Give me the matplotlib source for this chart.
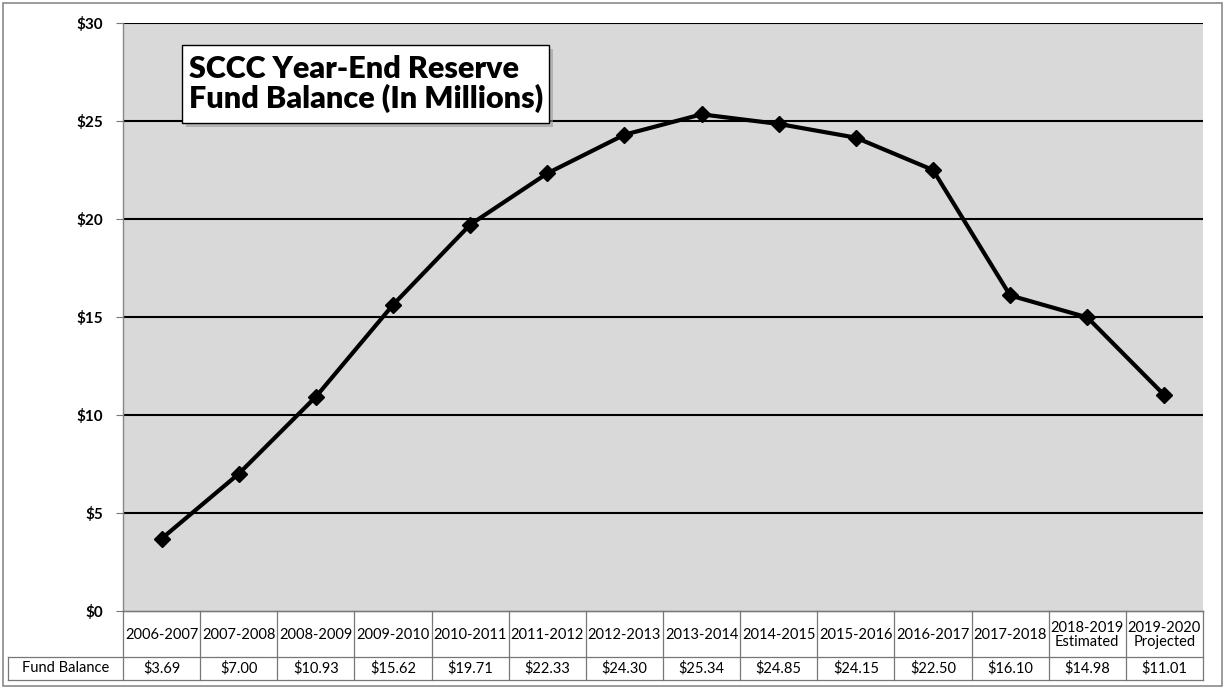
import matplotlib
matplotlib.use("Agg")
import matplotlib.pyplot as plt
from matplotlib.patches import Rectangle

plt.rcParams['font.family'] = ['Lato', 'DejaVu Sans']

categories = ["2006-2007", "2007-2008", "2008-2009", "2009-2010", "2010-2011",
              "2011-2012", "2012-2013", "2013-2014", "2014-2015", "2015-2016",
              "2016-2017", "2017-2018", "2018-2019\nEstimated", "2019-2020\nProjected"]
values = [3.69, 7.00, 10.93, 15.62, 19.71, 22.33, 24.30, 25.34, 24.85, 24.15,
          22.50, 16.10, 14.98, 11.01]
value_labels = ["$3.69", "$7.00", "$10.93", "$15.62", "$19.71", "$22.33", "$24.30",
                "$25.34", "$24.85", "$24.15", "$22.50", "$16.10", "$14.98", "$11.01"]
yticks = [0, 5, 10, 15, 20, 25, 30]
ytick_labels = ["$0", "$5", "$10", "$15", "$20", "$25", "$30"]
row_label = "Fund Balance"
title = "SCCC Year-End Reserve\nFund Balance (In Millions)"

W, H = 1225, 689
fig = plt.figure(figsize=(W / 100, H / 100), dpi=100)
fig.patch.set_facecolor("white")

# outer border
fig.add_artist(Rectangle((3 / W, 3 / H), (W - 6) / W, (H - 6) / H, transform=fig.transFigure,
                         fill=False, edgecolor="#8a8a8a", linewidth=1.2))

L, R, T, B = 123, 1203, 23, 611
ax = fig.add_axes([L / W, 1 - B / H, (R - L) / W, (B - T) / H])
ax.set_facecolor("#d9d9d9")
n = len(categories)
x = list(range(n))
ax.set_xlim(-0.5, n - 0.5)
ax.set_ylim(0, 30)
ax.set_yticks(yticks)
ax.set_yticklabels(ytick_labels, fontsize=11, fontweight="bold")
ax.tick_params(axis="y", length=5, width=0.8, color="#777777", pad=9)
ax.set_xticks([])
for s in ["top", "right"]:
    ax.spines[s].set_visible(False)
ax.spines["left"].set_color("#888888")
ax.spines["left"].set_linewidth(1.0)
ax.spines["bottom"].set_color("#888888")
ax.spines["bottom"].set_linewidth(1.0)
for yv in yticks[1:]:
    ax.axhline(yv, color="black", linewidth=1.5, zorder=1)

ax.plot(x, values, color="black", linewidth=3.0, marker="D", markersize=8.5,
        markerfacecolor="black", zorder=3)

# title box with shadow
bx0, bx1, by0, by1 = 182, 549, 45, 123
def fx(px):
    return (px - L) / (R - L)
def fy(py):
    return (B - py) / (B - T)
shadow = Rectangle((fx(bx0 + 4), fy(by1 + 4)), fx(bx1) - fx(bx0), fy(by0) - fy(by1),
                   transform=ax.transAxes, facecolor="#9a9a9a", edgecolor="none", alpha=0.6, zorder=4)
ax.add_patch(shadow)
box = Rectangle((fx(bx0), fy(by1)), fx(bx1) - fx(bx0), fy(by0) - fy(by1),
                transform=ax.transAxes, facecolor="white", edgecolor="black", linewidth=1.0, zorder=5)
ax.add_patch(box)
ax.text(fx(bx0 + 7), fy((by0 + by1) / 2), title, transform=ax.transAxes, ha="left", va="center",
        fontsize=22, fontweight="heavy", linespacing=1.05, zorder=6)

# table
TL, TB = 8, 680
HB = 657
tax = fig.add_axes([TL / W, 1 - TB / H, (R - TL) / W, (TB - B) / H])
colw = (R - L) / n
first_w = (L - TL) / colw
tax.set_xlim(-0.5 - first_w, n - 0.5)
tax.set_ylim(TB - B, 0)
tax.axis("off")
lc = "#777777"
lw = 0.9
row_h1 = HB - B
row_h2 = TB - B
tax.plot([-0.5, n - 0.5], [0, 0], color=lc, lw=lw, clip_on=False)
tax.plot([-0.5 - first_w, n - 0.5], [row_h1, row_h1], color=lc, lw=lw, clip_on=False)
tax.plot([-0.5 - first_w, n - 0.5], [row_h2, row_h2], color=lc, lw=lw, clip_on=False)
for i in range(n + 1):
    tax.plot([i - 0.5, i - 0.5], [0, row_h2], color=lc, lw=lw, clip_on=False)
tax.plot([-0.5 - first_w] * 2, [row_h1, row_h2], color=lc, lw=lw, clip_on=False)

for i, (c, v) in enumerate(zip(categories, value_labels)):
    tax.text(i, row_h1 / 2 + 1, c, ha="center", va="center", fontsize=10.5, linespacing=1.05)
    tax.text(i, (row_h1 + row_h2) / 2, v, ha="center", va="center", fontsize=10.5)
tax.text(-0.5 - first_w / 2, (row_h1 + row_h2) / 2, row_label, ha="center", va="center", fontsize=10.5)

fig.savefig("out.png", dpi=100)
